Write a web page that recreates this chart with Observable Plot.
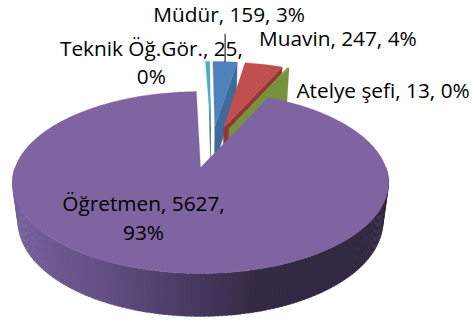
<!DOCTYPE html>
<html>
<head>
<meta charset="utf-8">
<script src="https://cdn.jsdelivr.net/npm/d3@7"></script>
<script src="https://cdn.jsdelivr.net/npm/@observablehq/plot@0.6"></script>
<style>html,body{margin:0;padding:0;background:#fff}svg{display:block}</style>
</head>
<body>
<div id="chart"></div>
<script>
// Data (clockwise from 12 o'clock)
const categories = ["Müdür", "Muavin", "Atelye şefi", "Öğretmen", "Teknik Öğ.Gör."];
const values = [159, 247, 13, 5627, 25];
const percents = ["3%", "4%", "0%", "93%", "0%"];
const topColors = ["#4f81bd", "#c0504d", "#7f9f45", "#8064a2", "#4bacc6"];
const wallColors = ["#3e6a9c", "#943634", "#76923c", "#8064a2", "#1f4f5f"];

// 3D pie model: radius 1 in the pie plane; Z points away from the viewer
const persp = 0.165, dropH = 0.456, widen = 0.03, explode = 0.25;
const total = d3.sum(values);
const TAU = Math.PI * 2;
let acc = 0;
const slices = values.map((v, i) => {
  const a0 = acc / total * TAU; acc += v; const a1 = acc / total * TAU;
  return {i, a0, a1, mid: (a0 + a1) / 2};
});
const main = slices[3];
const ox = -Math.sin(main.mid) * explode + 0.012, oz = -Math.cos(main.mid) * explode;
function centre(s) {
  if (s.i === 3) return [0, 0];
  return [ox + Math.sin(s.mid) * explode, oz + Math.cos(s.mid) * explode];
}
function proj(X, Z, h) {
  const w = 1 + persp * Z + widen * h;
  return {x: X / w, y: (Z - dropH * h) / w};
}
function rim(s, a, h) {
  const [cx, cz] = centre(s);
  return proj(cx + Math.sin(a), cz + Math.cos(a), h);
}
function apex(s, h) { const [cx, cz] = centre(s); return proj(cx, cz, h); }
function arc(s, a0, a1, h) {
  const n = Math.max(2, Math.ceil(Math.abs(a1 - a0) / 0.02));
  return d3.range(n + 1).map(k => rim(s, a0 + (a1 - a0) * k / n, h));
}
const polys = [];
function add(pts, fill) {
  const id = polys.length ? polys[polys.length - 1].id + 1 : 0;
  pts.concat(pts[0]).forEach(p => polys.push({...p, id, fill}));
}
const shade = d3.scaleLinear()
  .domain([-1, -0.55, 0, 0.3, 1])
  .range(["#75609a", "#645085", "#46375d", "#352a45", "#322842"]);

// Back slices: painter order, then the main slice in front
for (const i of [4, 0, 1, 2]) {
  const s = slices[i];
  add([apex(s, 0), rim(s, s.a1, 0), rim(s, s.a1, 1), apex(s, 1)], wallColors[i]);
  add([apex(s, 0), ...arc(s, s.a0, s.a1, 0)], topColors[i]);
}
// Outer wall of the main slice, as narrow strips shaded across the width
const stripN = 150, wa0 = Math.PI * 0.5, wa1 = Math.PI * 1.5;
d3.range(stripN).forEach(k => {
  const a = wa0 + (wa1 - wa0) * k / stripN, b = wa0 + (wa1 - wa0) * (k + 1) / stripN;
  const mid = rim(main, (a + b) / 2, 0);
  add([rim(main, a, 0), rim(main, b + 0.006, 0), rim(main, b + 0.006, 1), rim(main, a, 1)], shade(mid.x));
});
add([apex(main, 0), ...arc(main, main.a0, main.a1, 0)], topColors[3]);

// Leader from the Müdür slice up to its label
const lead0 = rim(slices[0], slices[0].mid, 0);
const leader = [lead0, {x: lead0.x, y: lead0.y + 0.31}];

const labelLines = categories.map((c, i) => `${c}, ${values[i]}, ${percents[i]}`);
labelLines[3] = `${categories[3]}, ${values[3]},\n${percents[3]}`;
labelLines[4] = `${categories[4]}, ${values[4]},\n${percents[4]}`;
const labelOffsets = [[4, -49], [74, -27], [95, 21], [-57, 49], [-56, 0]];
const labelMarks = slices.map((s, i) => {
  const p = i === 3 ? apex(s, 0) : rim(s, s.mid, 0);
  return Plot.text([p], {
    x: "x", y: "y", text: () => labelLines[i],
    dx: labelOffsets[i][0], dy: labelOffsets[i][1],
    fontFamily: "Open Sans", fontSize: 20.8, fill: "#000", lineHeight: 1.35
  });
});

const R = 185.4, T = 88.5, CX = 200, CY = 167;
const chart = Plot.plot({
  width: 475, height: 324,
  margin: 0,
  x: {domain: [-1, 1], range: [CX - R, CX + R], axis: null},
  y: {domain: [-1, 1], range: [CY + T, CY - T], axis: null},
  marks: [
    Plot.line(polys, {x: "x", y: "y", z: "id", fill: "fill", stroke: "fill", strokeWidth: 0.3, curve: "linear"}),
    Plot.line(leader, {x: "x", y: "y", stroke: "#000", strokeWidth: 1}),
    ...labelMarks
  ]
});
document.getElementById("chart").appendChild(chart);
</script>
</body>
</html>
